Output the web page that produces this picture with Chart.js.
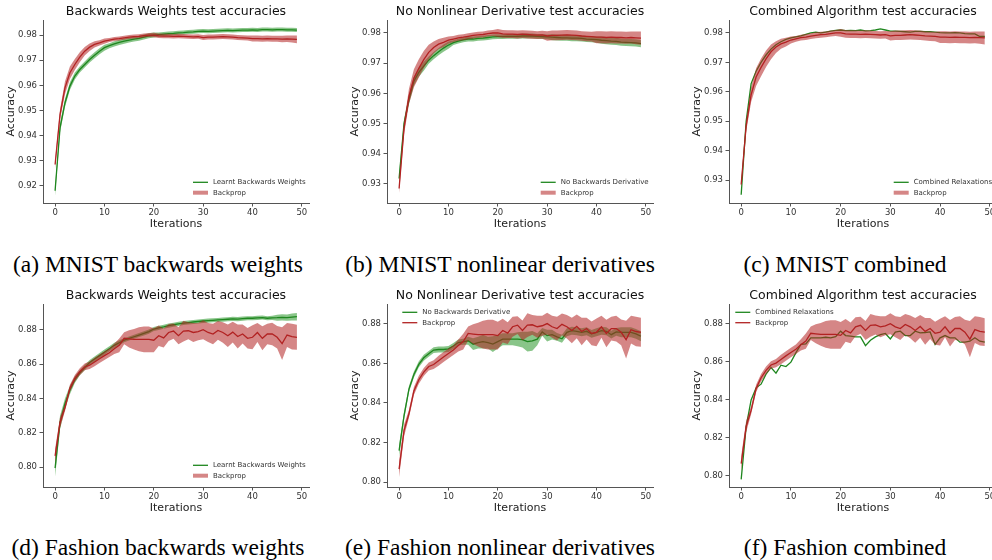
<!DOCTYPE html>
<html lang="en">
<head>
<meta charset="UTF-8">
<title>Test accuracies</title>
<script src="https://cdn.jsdelivr.net/npm/chart.js"></script>
<style>
    html, body { margin: 0; padding: 0; background: #fff; }
    body { width: 992px; height: 560px; position: relative; overflow: hidden; }
    canvas { position: absolute; }
    .caption {
        position: absolute;
        font-family: "Liberation Serif", "Times New Roman", serif;
        font-size: 23.5px;
        line-height: 1;
        white-space: nowrap;
        transform: translateX(-50%);
        color: #000;
    }
</style>
</head>
<body>
<canvas id="pa" width="320" height="235" style="left:0px;top:0px"></canvas>
<canvas id="pb" width="320" height="235" style="left:344px;top:0px"></canvas>
<canvas id="pc" width="322" height="235" style="left:686px;top:0px"></canvas>
<canvas id="pd" width="320" height="235" style="left:0px;top:284px"></canvas>
<canvas id="pe" width="320" height="235" style="left:344px;top:284px"></canvas>
<canvas id="pf" width="322" height="235" style="left:686px;top:284px"></canvas>

<div class="caption" style="left:158px;top:253px">(a) MNIST backwards weights</div>
<div class="caption" style="left:500px;top:253px">(b) MNIST nonlinear derivatives</div>
<div class="caption" style="left:845px;top:253px">(c) MNIST combined</div>
<div class="caption" style="left:158px;top:536px">(d) Fashion backwards weights</div>
<div class="caption" style="left:500px;top:536px">(e) Fashion nonlinear derivatives</div>
<div class="caption" style="left:845px;top:536px">(f) Fashion combined</div>

<script>
// x values (training iterations)
const ITERATIONS = [0, 1, 2, 3, 4, 5, 6, 7, 8, 9, 10, 11, 12, 13, 14, 15, 16, 17, 18, 19,
    20, 21, 22, 23, 24, 25, 26, 27, 28, 29, 30, 31, 32, 33, 34, 35, 36, 37, 38, 39,
    40, 41, 42, 43, 44, 45, 46, 47, 48, 49];

const X_TICKS = [0, 10, 20, 30, 40, 50];
const Y_TICKS_MNIST_A = [0.92, 0.93, 0.94, 0.95, 0.96, 0.97, 0.98];
const Y_TICKS_MNIST = [0.93, 0.94, 0.95, 0.96, 0.97, 0.98];
const Y_TICKS_FASHION = [0.80, 0.82, 0.84, 0.86, 0.88];

// MNIST - backprop baseline (mean, std)
const MNIST_BACKPROP = [0.9285, 0.9484, 0.959, 0.965, 0.9683, 0.9712, 0.9736, 0.9752, 0.9763, 0.9769,
    0.9776, 0.978, 0.9784, 0.9786, 0.9789, 0.9792, 0.9794, 0.9795, 0.9798, 0.98,
    0.98, 0.9797, 0.9796, 0.9796, 0.9795, 0.9796, 0.9795, 0.9794, 0.9793, 0.9794,
    0.979, 0.9792, 0.9792, 0.9793, 0.9794, 0.9793, 0.9792, 0.979, 0.9789, 0.9788,
    0.9786, 0.9786, 0.9785, 0.9786, 0.9785, 0.9785, 0.9784, 0.9785, 0.9784, 0.9783];
const MNIST_BACKPROP_STD_A = [0.0015, 0.002, 0.0025, 0.0025, 0.0022, 0.002, 0.0017, 0.0015, 0.0012, 0.001,
    0.001, 0.0008, 0.0008, 0.0008, 0.0008, 0.0008, 0.0008, 0.0008, 0.0008, 0.0008,
    0.0009, 0.0009, 0.0009, 0.0009, 0.0009, 0.0009, 0.0009, 0.0009, 0.0009, 0.0009,
    0.001, 0.001, 0.001, 0.001, 0.001, 0.001, 0.001, 0.001, 0.001, 0.001,
    0.0012, 0.0012, 0.0012, 0.0012, 0.0012, 0.0012, 0.0013, 0.0013, 0.0014, 0.0015];
const MNIST_BACKPROP_STD_BC = [0.0015, 0.002, 0.0025, 0.003, 0.003, 0.0028, 0.0025, 0.002, 0.0017, 0.0015,
    0.0012, 0.001, 0.001, 0.001, 0.001, 0.001, 0.001, 0.001, 0.001, 0.001,
    0.0013, 0.0013, 0.0013, 0.0013, 0.0013, 0.0013, 0.0013, 0.0013, 0.0013, 0.0013,
    0.0016, 0.0016, 0.0016, 0.0016, 0.0016, 0.0016, 0.0016, 0.0016, 0.0016, 0.0016,
    0.002, 0.002, 0.002, 0.002, 0.002, 0.002, 0.002, 0.002, 0.0021, 0.0022];

// MNIST - learnt backwards weights
const MNIST_BW = [0.9181, 0.9431, 0.953, 0.9597, 0.9637, 0.9663, 0.9683, 0.9703, 0.972, 0.9736,
    0.975, 0.9758, 0.9765, 0.9771, 0.9776, 0.978, 0.9784, 0.9787, 0.9792, 0.9797,
    0.98, 0.9802, 0.9804, 0.9806, 0.9807, 0.9809, 0.981, 0.9812, 0.9813, 0.9815,
    0.9816, 0.9815, 0.9816, 0.9817, 0.9818, 0.9819, 0.9818, 0.9819, 0.982, 0.982,
    0.9821, 0.982, 0.9822, 0.9822, 0.9821, 0.9822, 0.9822, 0.9821, 0.9821, 0.982];
const MNIST_BW_STD = [0.002, 0.0018, 0.0016, 0.0015, 0.0014, 0.0012, 0.0012, 0.0012, 0.0012, 0.0012,
    0.0012, 0.001, 0.001, 0.001, 0.001, 0.001, 0.001, 0.001, 0.001, 0.001,
    0.001, 0.0008, 0.0008, 0.0008, 0.0008, 0.0008, 0.0008, 0.0008, 0.0008, 0.0008,
    0.0008, 0.0008, 0.0008, 0.0008, 0.0008, 0.0008, 0.0008, 0.0008, 0.0008, 0.0008,
    0.0008, 0.0008, 0.0008, 0.0008, 0.0008, 0.0008, 0.0008, 0.0008, 0.0008, 0.0008];

// MNIST - no backwards (nonlinear) derivative
const MNIST_NOD = [0.9318, 0.95, 0.958, 0.964, 0.967, 0.969, 0.971, 0.9725, 0.9738, 0.975,
    0.976, 0.9768, 0.9773, 0.9777, 0.978, 0.978, 0.9782, 0.9783, 0.9785, 0.9787,
    0.9788, 0.9788, 0.9789, 0.9789, 0.9789, 0.979, 0.979, 0.979, 0.9789, 0.9788,
    0.9787, 0.9786, 0.9785, 0.9784, 0.9784, 0.9783, 0.9783, 0.9782, 0.978, 0.9779,
    0.9778, 0.9776, 0.9775, 0.9773, 0.9772, 0.977, 0.9769, 0.9768, 0.9767, 0.9765];
const MNIST_NOD_STD = [0.0015, 0.0015, 0.0015, 0.0015, 0.0015, 0.0015, 0.0012, 0.0012, 0.0012, 0.0012,
    0.0012, 0.0008, 0.0008, 0.0008, 0.0008, 0.0008, 0.0008, 0.0008, 0.0008, 0.0008,
    0.0008, 0.0008, 0.0008, 0.0008, 0.0008, 0.0008, 0.0008, 0.0008, 0.0008, 0.0008,
    0.0008, 0.001, 0.001, 0.001, 0.001, 0.001, 0.001, 0.001, 0.001, 0.001,
    0.001, 0.0012, 0.0012, 0.0012, 0.0012, 0.0012, 0.0012, 0.0012, 0.0012, 0.0012];

// MNIST - combined relaxations (single run, no band)
const MNIST_COMB = [0.925, 0.95, 0.9628, 0.967, 0.97, 0.9725, 0.9745, 0.976, 0.977, 0.9778,
    0.9783, 0.9787, 0.979, 0.9795, 0.98, 0.9803, 0.98, 0.9803, 0.9806, 0.9809,
    0.981, 0.9808, 0.9809, 0.9808, 0.981, 0.9807, 0.9808, 0.981, 0.9814, 0.981,
    0.9806, 0.9806, 0.9805, 0.9804, 0.9803, 0.9805, 0.9805, 0.9804, 0.9804, 0.9803,
    0.9801, 0.98, 0.98, 0.9801, 0.98, 0.9798, 0.9797, 0.9797, 0.9788, 0.9788];

// Fashion MNIST - backprop baseline
const FASHION_BACKPROP = [0.8065, 0.826, 0.8345, 0.846, 0.8517, 0.8556, 0.8584, 0.8594, 0.8613, 0.8632,
    0.865, 0.8667, 0.869, 0.871, 0.8751, 0.8748, 0.8745, 0.8745, 0.8745, 0.8745,
    0.874, 0.8766, 0.8753, 0.8785, 0.8793, 0.8766, 0.8793, 0.8795, 0.8785, 0.879,
    0.8801, 0.8785, 0.8776, 0.8797, 0.8785, 0.8766, 0.8787, 0.8761, 0.8776, 0.8751,
    0.8757, 0.8785, 0.8751, 0.8776, 0.8776, 0.8757, 0.872, 0.877, 0.8761, 0.8757];
const FASHION_BACKPROP_STD = [0.004, 0.003, 0.002, 0.002, 0.002, 0.002, 0.002, 0.0022, 0.0025, 0.0025,
    0.0025, 0.0025, 0.003, 0.004, 0.0035, 0.005, 0.006, 0.007, 0.0075, 0.0075,
    0.007, 0.006, 0.0055, 0.005, 0.0045, 0.005, 0.006, 0.005, 0.0055, 0.005,
    0.0055, 0.0055, 0.006, 0.0055, 0.006, 0.0065, 0.006, 0.007, 0.0055, 0.006,
    0.007, 0.0055, 0.007, 0.006, 0.0065, 0.0065, 0.0095, 0.007, 0.0075, 0.0073];

// Fashion MNIST - learnt backwards weights
const FASHION_BW = [0.7995, 0.826, 0.837, 0.845, 0.851, 0.855, 0.858, 0.861, 0.863, 0.865,
    0.867, 0.869, 0.871, 0.8725, 0.874, 0.875, 0.876, 0.877, 0.878, 0.879,
    0.8805, 0.8812, 0.8818, 0.8825, 0.883, 0.8835, 0.884, 0.8843, 0.8846, 0.8849,
    0.8852, 0.8854, 0.8856, 0.8858, 0.886, 0.8862, 0.8864, 0.8863, 0.8866, 0.8868,
    0.8868, 0.887, 0.8872, 0.8868, 0.887, 0.8871, 0.8873, 0.8872, 0.8875, 0.8877];
const FASHION_BW_STD = [0.005, 0.004, 0.003, 0.0025, 0.002, 0.0015, 0.0015, 0.0015, 0.0015, 0.0015,
    0.0015, 0.0015, 0.0015, 0.0015, 0.0012, 0.0012, 0.0012, 0.0012, 0.0012, 0.0012,
    0.0012, 0.0012, 0.0012, 0.0012, 0.0012, 0.0012, 0.0012, 0.0012, 0.0012, 0.0012,
    0.0012, 0.0012, 0.0012, 0.0012, 0.0012, 0.0012, 0.0012, 0.0012, 0.0012, 0.0012,
    0.0012, 0.0012, 0.0012, 0.0012, 0.0012, 0.0018, 0.0018, 0.0018, 0.002, 0.0022];

// Fashion MNIST - no backwards derivative
const FASHION_NOD = [0.8159, 0.8335, 0.847, 0.8544, 0.8595, 0.8628, 0.8648, 0.8667, 0.867, 0.867,
    0.8673, 0.8688, 0.8705, 0.8709, 0.8714, 0.8697, 0.8705, 0.871, 0.8705, 0.8697,
    0.871, 0.8722, 0.8722, 0.8722, 0.8722, 0.872, 0.871, 0.8714, 0.8722, 0.8759,
    0.874, 0.8745, 0.8734, 0.8724, 0.8757, 0.8765, 0.8762, 0.8757, 0.8762, 0.8749,
    0.8757, 0.8765, 0.8762, 0.8745, 0.8759, 0.8757, 0.8757, 0.8757, 0.8749, 0.8737];
const FASHION_NOD_STD = [0.003, 0.002, 0.0015, 0.0015, 0.0015, 0.0015, 0.0015, 0.0015, 0.0015, 0.0015,
    0.0015, 0.0015, 0.0015, 0.0015, 0.002, 0.003, 0.003, 0.0035, 0.003, 0.004,
    0.0035, 0.003, 0.003, 0.003, 0.0035, 0.004, 0.005, 0.005, 0.003, 0.002,
    0.003, 0.0025, 0.002, 0.002, 0.002, 0.002, 0.002, 0.002, 0.002, 0.002,
    0.002, 0.002, 0.002, 0.002, 0.002, 0.0025, 0.0025, 0.0025, 0.0025, 0.0025];

// Fashion MNIST - combined relaxations (single run, no band)
const FASHION_COMB = [0.7982, 0.826, 0.84, 0.8464, 0.8483, 0.8536, 0.8571, 0.8541, 0.8583, 0.8576,
    0.8599, 0.8648, 0.8692, 0.8695, 0.8727, 0.8727, 0.8727, 0.873, 0.8727, 0.8733,
    0.8762, 0.8739, 0.8736, 0.8732, 0.8732, 0.8686, 0.8714, 0.8732, 0.8744, 0.875,
    0.8721, 0.8757, 0.8762, 0.8739, 0.8739, 0.8762, 0.8753, 0.8755, 0.8758, 0.8692,
    0.8727, 0.8739, 0.8727, 0.8727, 0.8704, 0.8704, 0.8709, 0.8727, 0.8709, 0.8704];

const GREEN = '#1e861e';
const GREEN_BAND = 'rgba(20, 140, 20, 0.5)';
const RED = '#b22222';
const RED_BAND = 'rgba(178, 34, 34, 0.55)';

Chart.defaults.font.family = '"DejaVu Sans", sans-serif';
Chart.defaults.color = '#333';

// draws a matplotlib-style legend (line handles) inside the axes
const insideLegend = {
    id: 'insideLegend',
    afterDatasetsDraw(chart, args, opts) {
        if (!opts.items) return;
        const ctx = chart.ctx;
        ctx.save();
        ctx.font = '7px "DejaVu Sans"';
        ctx.textBaseline = 'middle';
        opts.items.forEach((it, i) => {
            const y = opts.y + i * opts.rowH;
            ctx.beginPath();
            ctx.moveTo(opts.x, y);
            ctx.lineTo(opts.x + 15, y);
            ctx.strokeStyle = it.thick ? it.band : it.color;
            ctx.lineWidth = it.thick ? 4 : 1.3;
            ctx.stroke();
            ctx.fillStyle = '#333';
            ctx.fillText(it.label, opts.x + 20, y);
        });
        ctx.restore();
    }
};

function bandDatasets(mean, std, color, order) {
    return [
        { data: mean.map((v, i) => v + std[i]), fill: '+1', backgroundColor: color,
          borderWidth: 0, pointRadius: 0, order: order },
        { data: mean.map((v, i) => v - std[i]), fill: false,
          borderWidth: 0, pointRadius: 0, order: order }
    ];
}

function makePanel(id, cfg) {
    let datasets = [];
    if (cfg.greenStd) datasets = datasets.concat(bandDatasets(cfg.green, cfg.greenStd, GREEN_BAND, 4));
    datasets.push({ data: cfg.green, borderColor: GREEN, borderWidth: 1.3, pointRadius: 0, fill: false, order: 3 });
    datasets = datasets.concat(bandDatasets(cfg.red, cfg.redStd, RED_BAND, 2));
    datasets.push({ data: cfg.red, borderColor: RED, borderWidth: 1.3, pointRadius: 0, fill: false, order: 1 });

    new Chart(document.getElementById(id), {
        type: 'line',
        data: { labels: ITERATIONS, datasets: datasets },
        plugins: [insideLegend],
        options: {
            responsive: false,
            animation: false,
            devicePixelRatio: 1,
            layout: { padding: { left: 0, right: cfg.padRight, top: 0, bottom: 0 } },
            elements: { line: { tension: 0 } },
            scales: {
                x: {
                    type: 'linear',
                    min: -2.45,
                    max: 51.45,
                    afterBuildTicks: s => { s.ticks = X_TICKS.map(v => ({ value: v })); },
                    afterFit: s => { s.height = 32; },
                    ticks: { font: { size: 8.5 }, padding: 1.5, maxRotation: 0, color: '#333' },
                    grid: { drawOnChartArea: false, drawTicks: true, tickLength: 3.5, color: '#555' },
                    border: { display: true, color: '#555', width: 1 },
                    title: { display: true, text: 'Iterations', font: { size: 11 }, color: '#222',
                             padding: { top: 0, bottom: 4.5 } }
                },
                y: {
                    min: cfg.yMin,
                    max: cfg.yMax,
                    afterBuildTicks: s => { s.ticks = cfg.yTicks.map(v => ({ value: v })); },
                    afterFit: s => { s.width = 43; },
                    ticks: { font: { size: 8.5 }, padding: 2.5, color: '#333',
                             callback: v => v.toFixed(2) },
                    grid: { drawOnChartArea: false, drawTicks: true, tickLength: 3.5, color: '#555' },
                    border: { display: true, color: '#555', width: 1 },
                    title: { display: true, text: 'Accuracy', font: { size: 11 }, color: '#222',
                             padding: { top: 5, bottom: 0 } }
                }
            },
            plugins: {
                legend: { display: false },
                tooltip: { enabled: false },
                title: {
                    display: true,
                    text: cfg.title,
                    fullSize: false,
                    color: '#111',
                    font: { size: 12.5, weight: 'normal' },
                    padding: { top: 4.5, bottom: 0.5 }
                },
                insideLegend: {
                    x: cfg.legend.x, y: cfg.legend.y, rowH: 10.4,
                    items: [
                        { label: cfg.greenLabel, color: GREEN },
                        { label: 'Backprop', color: RED, band: RED_BAND, thick: cfg.legend.thick }
                    ]
                }
            }
        }
    });
}

makePanel('pa', {
    title: 'Backwards Weights test accuracies', yMin: 0.9132, yMax: 0.986, yTicks: Y_TICKS_MNIST_A,
    green: MNIST_BW, greenStd: MNIST_BW_STD, greenLabel: 'Learnt Backwards Weights',
    red: MNIST_BACKPROP, redStd: MNIST_BACKPROP_STD_A, padRight: 11,
    legend: { x: 193, y: 182.3, thick: true }
});
makePanel('pb', {
    title: 'No Nonlinear Derivative test accuracies', yMin: 0.9237, yMax: 0.9843, yTicks: Y_TICKS_MNIST,
    green: MNIST_NOD, greenStd: MNIST_NOD_STD, greenLabel: 'No Backwards Derivative',
    red: MNIST_BACKPROP, redStd: MNIST_BACKPROP_STD_BC, padRight: 11,
    legend: { x: 196.7, y: 182.3, thick: true }
});
makePanel('pc', {
    title: 'Combined Algorithm test accuracies', yMin: 0.9222, yMax: 0.9844, yTicks: Y_TICKS_MNIST,
    green: MNIST_COMB, greenStd: null, greenLabel: 'Combined Relaxations',
    red: MNIST_BACKPROP, redStd: MNIST_BACKPROP_STD_BC, padRight: 11,
    legend: { x: 207.7, y: 182.3, thick: true }
});
makePanel('pd', {
    title: 'Backwards Weights test accuracies', yMin: 0.7884, yMax: 0.8951, yTicks: Y_TICKS_FASHION,
    green: FASHION_BW, greenStd: FASHION_BW_STD, greenLabel: 'Learnt Backwards Weights',
    red: FASHION_BACKPROP, redStd: FASHION_BACKPROP_STD, padRight: 11,
    legend: { x: 193, y: 181.3, thick: true }
});
makePanel('pe', {
    title: 'No Nonlinear Derivative test accuracies', yMin: 0.7975, yMax: 0.890, yTicks: Y_TICKS_FASHION,
    green: FASHION_NOD, greenStd: FASHION_NOD_STD, greenLabel: 'No Backwards Derivative',
    red: FASHION_BACKPROP, redStd: FASHION_BACKPROP_STD, padRight: 11,
    legend: { x: 58.3, y: 28.3, thick: false }
});
makePanel('pf', {
    title: 'Combined Algorithm test accuracies', yMin: 0.7942, yMax: 0.8905, yTicks: Y_TICKS_FASHION,
    green: FASHION_COMB, greenStd: null, greenLabel: 'Combined Relaxations',
    red: FASHION_BACKPROP, redStd: FASHION_BACKPROP_STD, padRight: 11,
    legend: { x: 49.3, y: 28.3, thick: false }
});
</script>
</body>
</html>
